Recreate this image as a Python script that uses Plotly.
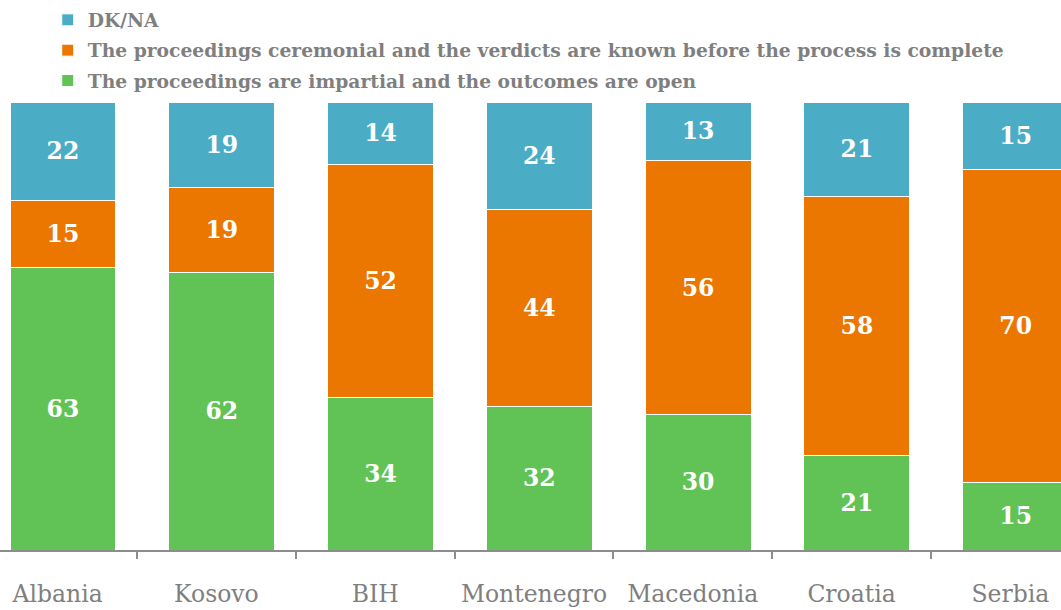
import plotly.graph_objects as go

categories = ["Albania", "Kosovo", "BIH", "Montenegro", "Macedonia", "Croatia", "Serbia"]
impartial = [63, 62, 34, 32, 30, 21, 15]
ceremonial = [15, 19, 52, 44, 56, 58, 70]
dkna = [22, 19, 14, 24, 13, 21, 15]

series = [
    ("The proceedings are impartial and the outcomes are open", impartial, "#61C355", 3),
    ("The proceedings ceremonial and the verdicts are known before the process is complete", ceremonial, "#EB7600", 2),
    ("DK/NA", dkna, "#4BACC6", 1),
]

FONT = "DejaVu Serif"
fig = go.Figure()
for i, (name, vals, col, rank) in enumerate(series):
    fig.add_trace(go.Bar(
        x=categories, y=vals, name=name, legendgroup=f"g{i}", legendrank=rank,
        marker=dict(color=col, line=dict(color="white", width=1)),
        width=0.667, offset=-0.30,
        text=[str(v) for v in vals],
        textposition="inside", insidetextanchor="middle",
        textfont=dict(family=FONT, size=23.5, color="white", weight="bold"),
        constraintext="none",
    ))

fig.update_layout(
    barmode="stack", barnorm="percent",
    width=1061, height=610,
    margin=dict(l=0, r=0, t=102, b=60, autoexpand=False),
    paper_bgcolor="white", plot_bgcolor="white",
    showlegend=True,
    legend=dict(
        x=0.045, xanchor="left", y=1.225, yanchor="top",
        traceorder="grouped", tracegroupgap=3,
        font=dict(family=FONT, size=18.7, color="#7F7F7F", weight="bold"),
        bgcolor="rgba(0,0,0,0)", itemclick=False,
    ),
    xaxis=dict(
        type="category", range=[-0.363, 6.319],
        showline=True, linecolor="#8C8C8C", linewidth=2,
        ticks="outside", tickson="boundaries", ticklen=7, tickwidth=2, tickcolor="#8C8C8C",
        tickfont=dict(family=FONT, size=23.5, color="#7F7F7F"),
        tickangle=0,
        ticklabelstandoff=22,
        showgrid=False,
    ),
    yaxis=dict(range=[0, 100], visible=False, showgrid=False),
)

fig.write_html("out.html", config={"displayModeBar": False},
               post_script="document.body.style.margin='0';document.body.style.overflow='hidden';")
